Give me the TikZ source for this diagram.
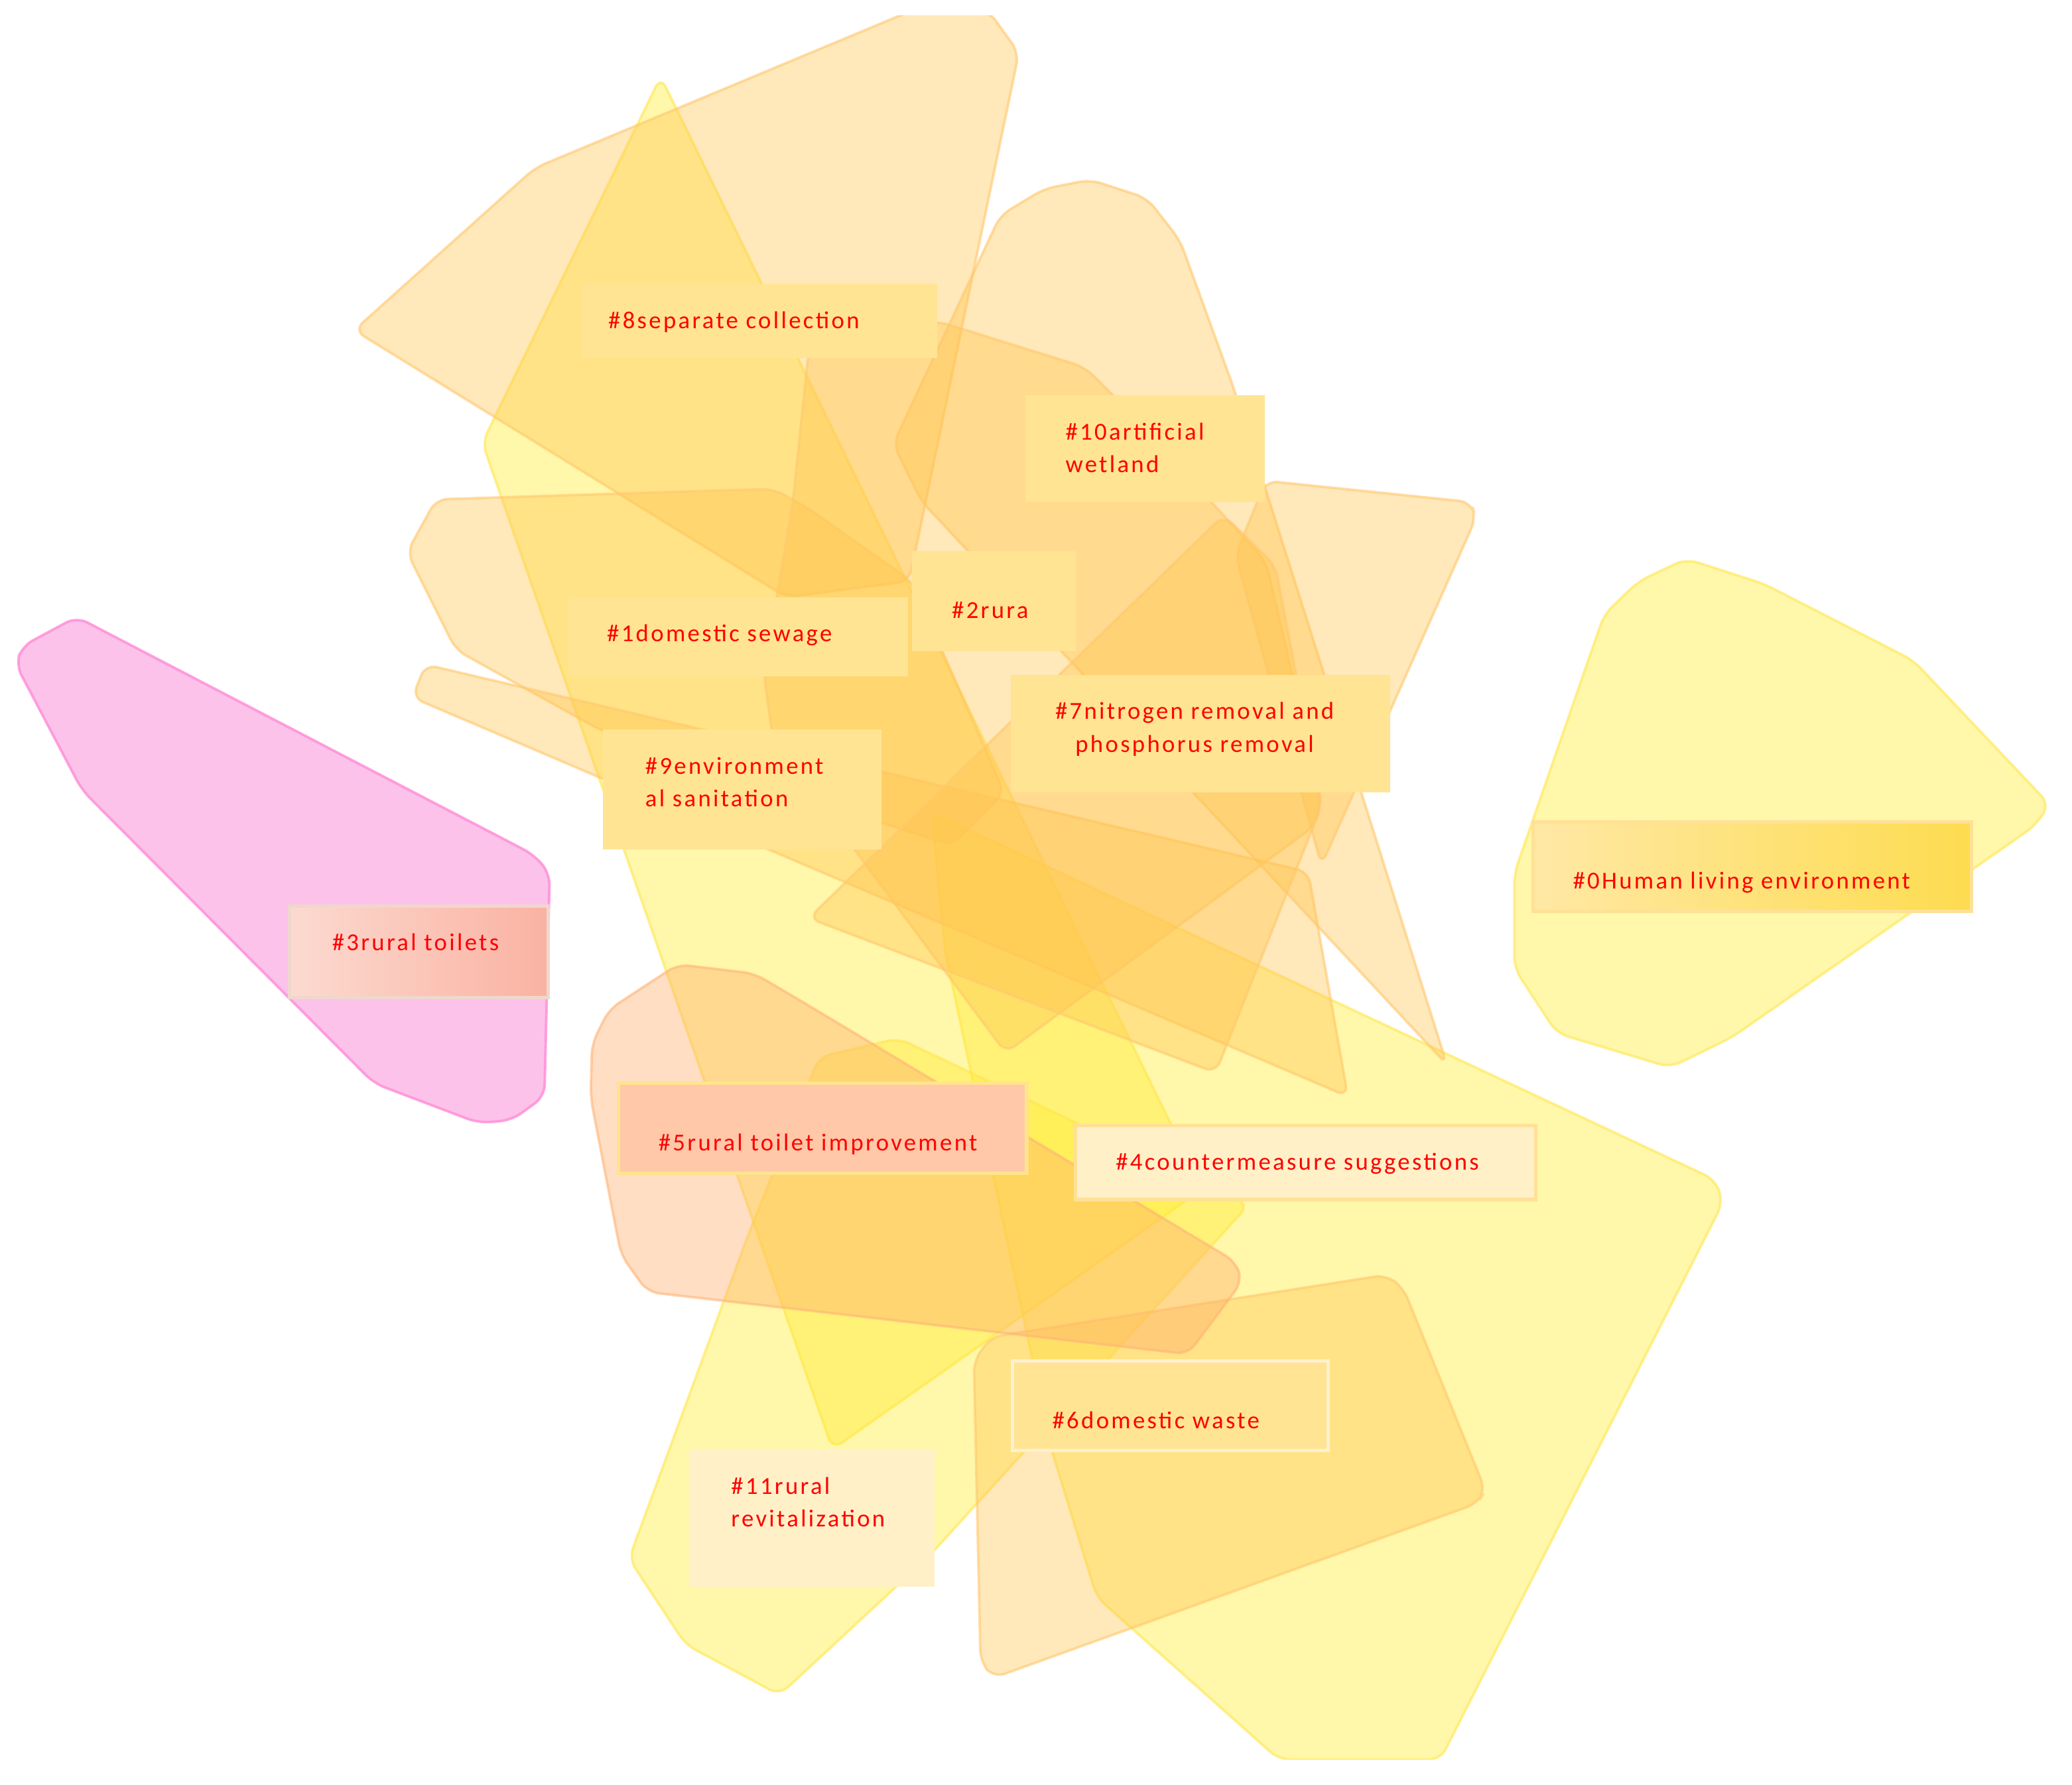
\documentclass[tikz,border=0pt]{standalone}
\usepackage{fontspec}
\setmainfont{Carlito}
\newfontfamily\labfont[LetterSpace=9]{Carlito}
\definecolor{hullO}{RGB}{255,197,80}
\definecolor{hullOd}{RGB}{255,200,110}
\definecolor{hullY}{RGB}{255,235,43}
\definecolor{hullYd}{RGB}{255,230,80}
\definecolor{hullP}{RGB}{249,133,213}
\definecolor{hullPd}{RGB}{255,140,215}
\definecolor{hullS}{RGB}{255,172,105}
\definecolor{hullSd}{RGB}{255,180,120}
\definecolor{labfill}{RGB}{255,228,148}
\definecolor{labpale}{RGB}{255,240,200}
\definecolor{labedge}{RGB}{255,225,150}
\begin{document}
\begin{tikzpicture}[x=0.02cm,y=-0.02cm,
  hull/.style={rounded corners=5pt, line width=1.1pt},
  ohull/.style={hull, fill=hullO, draw=hullOd, fill opacity=0.4, draw opacity=0.6},
  yhull/.style={hull, fill=hullY, draw=hullYd, fill opacity=0.4, draw opacity=0.6},
  phull/.style={hull, fill=hullP, draw=hullPd, fill opacity=0.5, draw opacity=0.8},
  shull/.style={hull, fill=hullS, draw=hullSd, fill opacity=0.4, draw opacity=0.6},
  labbox/.style={fill=labfill},
  lab/.style={font=\labfont\fontsize{10.5}{14.2}\selectfont, text=red, inner sep=0pt, anchor=west, align=left},
]
\useasboundingbox (0,0) rectangle (1568,1351);
\begin{scope}
\clip (0,12) rectangle (1568,1332);
% pink cluster #3
\draw[phull] (58,467) -- (17,489) -- (12,503) -- (62,598) -- (283,820) -- (362,850) -- (387,848) -- (412,830) -- (416,661) -- (404,647) -- cycle;
% right yellow cluster #0
\draw[yhull] (1276,423) -- (1335,442) -- (1448,500) -- (1551,609) -- (1540,625) -- (1311,785) -- (1264,808) -- (1178,782) -- (1146,733) -- (1146,661) -- (1214,465) -- (1240,440) -- cycle;
% big yellow lower right
\draw[yhull] (705,615) -- (1298,893) -- (1304,910) -- (1090,1332) -- (968,1332) -- (830,1209) -- (796,1098) -- (715,719) -- cycle;
% tall yellow
\draw[yhull] (500,58) -- (910,900) -- (630,1097) -- (365,335) -- cycle;
% yellow #11
\draw[yhull] (680,786) -- (945,912) -- (703,1178) -- (590,1283) -- (519,1245) -- (476,1180) -- (565,938) -- (620,800) -- cycle;
% orange top big
\draw[ohull] (268,250) -- (405,127) -- (690,8) -- (748,8) -- (771,40) -- (688,440) -- (595,452) -- cycle;
% orange left (#1)
\draw[ohull] (330,378) -- (585,370) -- (612,385) -- (690,440) -- (760,600) -- (720,640) -- (455,553) -- (345,492) -- (308,418) -- cycle;
% orange strip
\draw[ohull] (322,503) -- (990,660) -- (1020,830) -- (312,528) -- cycle;
% orange tall (#10)
\draw[ohull] (825,136) -- (868,150) -- (893,182) -- (933,292) -- (1000,504) -- (1095,806) -- (697,379) -- (676,336) -- (757,163) -- (790,143) -- cycle;
% orange (#2)
\draw[ohull] (612,265) -- (709,243) -- (821,278) -- (845,302) -- (958,425) -- (1000,605) -- (995,625) -- (761,797) -- (585,560) -- (578,510) -- (600,380) -- cycle;
% orange right
\draw[ohull] (958,364) -- (1113,380) -- (1117,392) -- (1000,655) -- (935,420) -- cycle;
% orange diamond
\draw[ohull] (612,695) -- (926,390) -- (965,428) -- (1000,610) -- (920,812) -- cycle;
% orange #6
\draw[ohull] (750,1012) -- (1049,965) -- (1062,975) -- (1124,1128) -- (1118,1138) -- (752,1270) -- (742,1258) -- (737,1030) -- cycle;
% peach #5
\draw[shull] (513,730) -- (571,737) -- (610,760) -- (935,955) -- (940,970) -- (899,1025) -- (490,978) -- (470,950) -- (447,831) -- (448,790) -- (461,764) -- cycle;
\end{scope}
% label boxes
\fill[labbox] (440,215) rectangle (709,271);
\fill[labbox] (776,299) rectangle (957,380);
\fill[labbox] (690,417) rectangle (814,493);
\fill[labbox] (430,452) rectangle (687,512);
\fill[labbox] (456,552) rectangle (667,643);
\fill[labbox] (765,511) rectangle (1052,600);
\shade[left color={rgb,255:red,255;green,232;blue,165}, right color={rgb,255:red,253;green,220;blue,80}, draw=labedge, line width=1.5pt] (1160,622) rectangle (1492,690);
\shade[left color={rgb,255:red,252;green,218;blue,208}, right color={rgb,255:red,250;green,178;blue,162}, draw={rgb,255:red,240;green,215;blue,205}, line width=1.5pt] (219,686) rectangle (415,755);
\filldraw[fill={rgb,255:red,255;green,200;blue,168}, draw={rgb,255:red,255;green,228;blue,140}, line width=1.5pt] (468,820) rectangle (777,888);
\filldraw[fill=labpale, draw=labedge, line width=1.5pt] (814,852) rectangle (1162,908);
\filldraw[fill=labfill, draw={rgb,255:red,255;green,240;blue,205}, line width=1.5pt] (766,1030) rectangle (1005,1098);
\fill[labpale] (522,1097) rectangle (707,1201);
% labels
\node[lab] (t8) at (460,244) {\#8separate collection};
\node[lab] (t10) at (806,339) {\#10artificial\\wetland};
\node[lab] (t2) at (720,462) {\#2rura};
\node[lab] (t1) at (459,481) {\#1domestic sewage};
\node[lab] (t9) at (488,592) {\#9environment\\al sanitation};
\node[lab, anchor=center, align=center] (t7) at (904,552) {\#7nitrogen removal and\\phosphorus removal};
\node[lab] (t0) at (1190,668) {\#0Human living environment};
\node[lab] (t3) at (251,713) {\#3rural toilets};
\node[lab] (t5) at (498,866) {\#5rural toilet improvement};
\node[lab] (t4) at (844,881) {\#4countermeasure suggestions};
\node[lab] (t6) at (796,1075) {\#6domestic waste};
\node[lab] (t11) at (553,1137) {\#11rural\\revitalization};
\end{tikzpicture}
\end{document}
